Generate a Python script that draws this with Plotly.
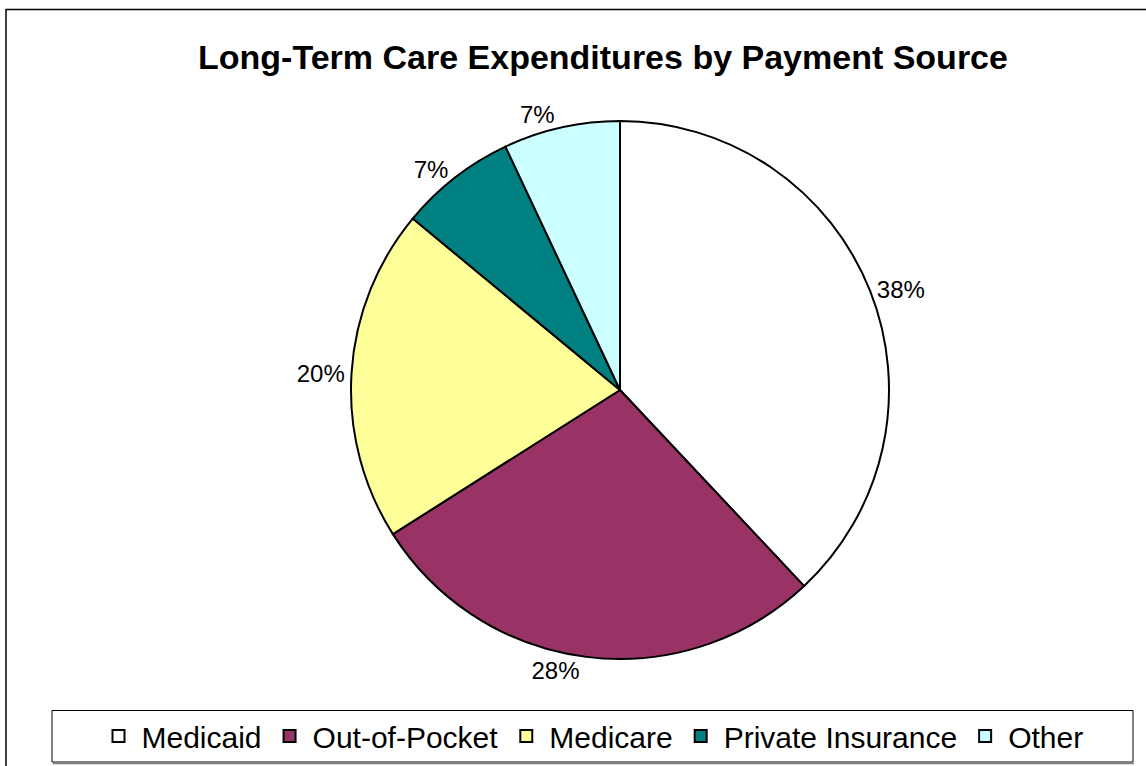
import plotly.graph_objects as go

categories = ["Medicaid", "Out-of-Pocket", "Medicare", "Private Insurance", "Other"]
shares = [38, 28, 20, 7, 7]
colors = ["#FFFFFF", "#993366", "#FFFF99", "#008080", "#CCFFFF"]

W, H = 1146, 766

fig = go.Figure(go.Pie(
    labels=categories,
    values=shares,
    sort=False,
    direction="clockwise",
    rotation=0,
    marker=dict(colors=colors, line=dict(color="#000000", width=2)),
    textinfo="percent",
    texttemplate="%{percent:.0%}",
    textposition="outside",
    textfont=dict(family="Liberation Sans, Arial, sans-serif", size=24, color="#000000"),
    domain=dict(x=[351 / W, 889 / W], y=[1 - 659 / H, 1 - 121 / H]),
    hoverinfo="label+percent",
))

fig.update_layout(
    width=W, height=H,
    margin=dict(l=0, r=0, t=0, b=0),
    paper_bgcolor="#FFFFFF",
    plot_bgcolor="#FFFFFF",
    title=dict(
        text="<b>Long-Term Care Expenditures by Payment Source</b>",
        x=603 / W, xanchor="center",
        y=1 - 57 / H, yanchor="middle",
        font=dict(family="Liberation Sans, Arial, sans-serif", size=34, color="#000000"),
    ),
    showlegend=True,
    legend=dict(
        orientation="h",
        x=592 / W, xanchor="center",
        y=1 - 736 / H, yanchor="middle",
        font=dict(family="Liberation Sans, Arial, sans-serif", size=30, color="#000000"),
        bgcolor="rgba(0,0,0,0)",
        borderwidth=0,
        traceorder="normal",
        itemwidth=36,
    ),
    shapes=[
        dict(type="rect", xref="paper", yref="paper",
             x0=6 / W, x1=1152 / W, y0=1 - 772 / H, y1=1 - 9.5 / H,
             line=dict(color="#000000", width=1.5), fillcolor="rgba(0,0,0,0)", layer="below"),
        dict(type="rect", xref="paper", yref="paper",
             x0=52 / W, x1=1133 / W, y0=1 - 762 / H, y1=1 - 710.5 / H,
             line=dict(color="#000000", width=1), fillcolor="rgba(0,0,0,0)", layer="below"),
        dict(type="line", xref="paper", yref="paper",
             x0=53 / W, x1=1134 / W, y0=1 - 763.5 / H, y1=1 - 763.5 / H,
             line=dict(color="#808080", width=1.5)),
    ],
)

fig.write_html("out.html")
